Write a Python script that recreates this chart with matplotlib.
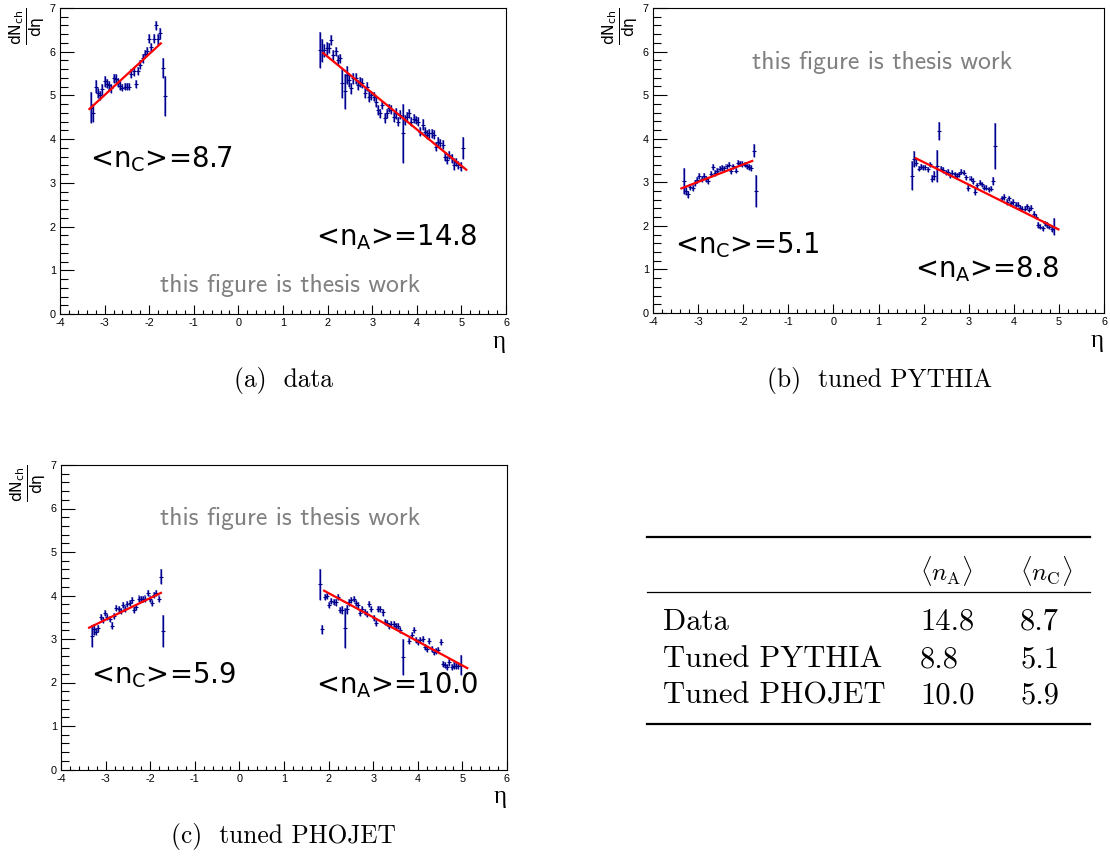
import numpy as np
import matplotlib
matplotlib.use("Agg")
import matplotlib.pyplot as plt
from matplotlib.ticker import MultipleLocator

plt.rcParams["axes.unicode_minus"] = False

W, H = 1110, 859
bin_w = 0.05

# ---- dN/deta per eta bin, C side (eta < 0) and A side (eta > 0) ----
# data
data_c_start = -3.30
data_c = [4.72, 4.60, 5.20, 5.05, 5.00, 5.14, 5.32, 5.27, 5.23, 5.16,
          5.39, 5.38, 5.29, 5.22, 5.18, 5.20, 5.20, 5.20, 5.50, 5.55,
          5.26, 5.56, 5.70, 5.85, 5.95, 6.02, 6.30, 6.10, 6.30, 6.60,
          6.28, 6.42, 5.63, 4.99]
data_c_err = [0.35, 0.20, 0.15, 0.12, 0.10, 0.12, 0.12, 0.10, 0.10, 0.10,
              0.10, 0.10, 0.10, 0.10, 0.08, 0.08, 0.08, 0.08, 0.10, 0.10,
              0.10, 0.10, 0.10, 0.10, 0.08, 0.08, 0.10, 0.10, 0.10, 0.10,
              0.12, 0.12, 0.22, 0.46]
data_a_start = 1.83
data_a = [6.04, 6.03, 6.03, 6.08, 6.09, 6.27, 5.93, 6.01, 5.81, 5.85,
          5.28, 5.09, 5.47, 5.35, 5.16, 5.39, 5.39, 5.24, 5.31, 5.28,
          5.05, 5.20, 4.97, 5.00, 4.97, 4.86, 4.67, 4.59, 4.78, 4.48,
          4.59, 4.71, 4.67, 4.51, 4.59, 4.40, 4.56, 4.13, 4.44, 4.51,
          4.59, 4.40, 4.47, 4.44, 4.40, 4.17, 4.33, 4.17, 4.10, 4.13,
          4.13, 4.10, 3.83, 3.94, 3.91, 3.87, 3.60, 3.52, 3.64, 3.56,
          3.41, 3.48, 3.41, 3.37, 3.79]
data_a_err = [0.42, 0.27, 0.15, 0.15, 0.12, 0.12, 0.12, 0.10, 0.12, 0.10,
              0.35, 0.40, 0.20, 0.15, 0.12, 0.12, 0.12, 0.12, 0.12, 0.12,
              0.12, 0.10, 0.12, 0.10, 0.10, 0.12, 0.12, 0.10, 0.10, 0.12,
              0.10, 0.10, 0.10, 0.12, 0.12, 0.10, 0.10, 0.67, 0.12, 0.10,
              0.10, 0.10, 0.10, 0.10, 0.10, 0.10, 0.12, 0.10, 0.10, 0.10,
              0.10, 0.10, 0.10, 0.10, 0.10, 0.10, 0.10, 0.10, 0.10, 0.10,
              0.12, 0.10, 0.10, 0.10, 0.25]

# tuned PYTHIA
pythia_c_start = -3.32
pythia_c = [3.03, 2.80, 2.72, 2.90, 2.87, 2.98, 3.05, 3.15, 3.08, 3.15,
            3.08, 3.03, 3.20, 3.36, 3.22, 3.27, 3.31, 3.33, 3.32, 3.37,
            3.40, 3.26, 3.37, 3.27, 3.45, 3.43, 3.42, 3.40, 3.37, 3.35,
            3.33, 3.72, 2.80]
pythia_c_err = [0.29, 0.10, 0.08, 0.07, 0.07, 0.07, 0.07, 0.07, 0.07, 0.07,
                0.07, 0.07, 0.07, 0.07, 0.07, 0.06, 0.06, 0.06, 0.06, 0.06,
                0.06, 0.06, 0.06, 0.06, 0.06, 0.06, 0.06, 0.06, 0.06, 0.06,
                0.06, 0.15, 0.37]
pythia_a_start = 1.74
pythia_a = [3.15, 3.53, 3.45, 3.31, 3.36, 3.34, 3.34, 3.30, 3.41, 3.08,
            3.15, 3.37, 4.18, 3.31, 3.28, 3.22, 3.24, 3.16, 3.22, 3.18,
            3.15, 3.18, 3.24, 3.22, 3.11, 2.88, 3.08, 3.03, 2.78, 2.93,
            2.99, 2.95, 2.88, 2.88, 2.84, 2.85, 3.03, 3.83, np.nan, np.nan,
            2.63, 2.66, 2.55, 2.63, 2.52, 2.55, 2.49, 2.49, 2.42, 2.39,
            2.39, 2.45, 2.37, 2.42, 2.27, 2.21, 2.02, 1.98, 1.94, 2.06,
            2.02, 1.98, 1.93, 1.98]
pythia_a_err = [0.33, 0.19, 0.08, 0.06, 0.06, 0.06, 0.06, 0.06, 0.06, 0.08,
                0.10, 0.36, 0.21, 0.06, 0.06, 0.06, 0.06, 0.06, 0.06, 0.06,
                0.06, 0.06, 0.06, 0.06, 0.06, 0.08, 0.06, 0.06, 0.08, 0.06,
                0.06, 0.06, 0.06, 0.06, 0.06, 0.06, 0.10, 0.53, np.nan, np.nan,
                0.06, 0.06, 0.06, 0.06, 0.06, 0.06, 0.06, 0.06, 0.06, 0.06,
                0.06, 0.06, 0.06, 0.06, 0.06, 0.06, 0.06, 0.06, 0.06, 0.06,
                0.06, 0.06, 0.06, 0.19]

# tuned PHOJET
phojet_c_start = -3.31
phojet_c = [3.07, 3.22, 3.17, 3.25, 3.51, 3.44, 3.59, 3.50, 3.45, 3.31,
            3.52, 3.71, 3.68, 3.65, 3.78, 3.68, 3.80, 3.83, 3.90, 3.66,
            3.74, 3.93, 3.91, 3.91, 3.93, 4.05, 3.93, 3.83, 4.01, 4.06,
            3.93, 4.43, 3.19]
phojet_c_err = [0.25, 0.12, 0.08, 0.08, 0.07, 0.07, 0.07, 0.07, 0.07, 0.07,
                0.07, 0.07, 0.07, 0.07, 0.07, 0.07, 0.07, 0.07, 0.07, 0.07,
                0.07, 0.07, 0.07, 0.07, 0.07, 0.07, 0.07, 0.07, 0.07, 0.07,
                0.07, 0.17, 0.37]
phojet_a_start = 1.81
phojet_a = [4.26, 3.22, 3.97, 3.99, 3.78, 3.88, 3.86, 3.84, 3.96, 3.67,
            3.67, 3.25, 3.68, 3.84, 3.90, 3.92, 3.82, 3.78, 3.59, 3.68,
            3.63, 3.58, 3.80, 3.68, 3.48, 3.36, 3.70, 3.68, 3.61, 3.40,
            3.37, 3.30, 3.34, 3.34, 3.30, 3.30, 3.21, 2.59, np.nan, np.nan,
            2.96, 3.09, 3.21, 2.97, 2.94, 2.97, 3.01, 2.82, 2.78, 2.96,
            2.76, 2.71, 2.73, 2.74, 2.94, 2.42, 2.41, 2.36, 2.46, 2.36,
            2.39, 2.37, 2.39, 2.41]
phojet_a_err = [0.36, 0.10, 0.07, 0.07, 0.07, 0.07, 0.07, 0.07, 0.07, 0.07,
                0.10, 0.46, 0.10, 0.07, 0.07, 0.07, 0.07, 0.07, 0.07, 0.07,
                0.07, 0.07, 0.07, 0.07, 0.07, 0.07, 0.07, 0.07, 0.07, 0.07,
                0.07, 0.07, 0.07, 0.07, 0.07, 0.07, 0.07, 0.42, np.nan, np.nan,
                0.07, 0.07, 0.07, 0.07, 0.07, 0.07, 0.07, 0.07, 0.07, 0.07,
                0.07, 0.07, 0.07, 0.07, 0.07, 0.07, 0.07, 0.07, 0.07, 0.07,
                0.07, 0.07, 0.07, 0.23]

# straight-line fits (end points)
data_fit_c = ([-3.34, -1.74], [4.69, 6.19])
data_fit_a = ([1.90, 5.11], [5.97, 3.30])
pythia_fit_c = ([-3.37, -1.80], [2.86, 3.49])
pythia_fit_a = ([1.83, 4.99], [3.55, 1.92])
phojet_fit_c = ([-3.37, -1.76], [3.26, 4.06])
phojet_fit_a = ([1.90, 5.11], [4.11, 2.33])

# <n> values
samples = ["Data", "Tuned PYTHIA", "Tuned PHOJET"]
n_A = [14.8, 8.8, 10.0]
n_C = [8.7, 5.1, 5.9]

fig = plt.figure(figsize=(W / 100, H / 100), dpi=100)


def px_axes(left, top, right, bottom):
    return fig.add_axes([left / W, 1 - bottom / H, (right - left) / W, (bottom - top) / H])


def style_axes(ax):
    ax.set_xlim(-4, 6)
    ax.set_ylim(0, 7)
    ax.xaxis.set_major_locator(MultipleLocator(1))
    ax.xaxis.set_minor_locator(MultipleLocator(0.2))
    ax.yaxis.set_major_locator(MultipleLocator(1))
    ax.yaxis.set_minor_locator(MultipleLocator(0.2))
    ax.tick_params(which="both", direction="in", top=False, right=False, width=0.8,
                   labelsize=7.8)
    ax.tick_params(axis="x", which="major", length=6.3, pad=3)
    ax.tick_params(axis="x", which="minor", length=3.1)
    ax.tick_params(axis="y", which="major", length=10, pad=3)
    ax.tick_params(axis="y", which="minor", length=5.8)
    for lab in ax.get_xticklabels() + ax.get_yticklabels():
        lab.set_family("Liberation Sans")
    for sp in ax.spines.values():
        sp.set_linewidth(0.8)
    ax.text(-0.026, 1.0, r"$\frac{\mathrm{dN_{ch}}}{\mathrm{d\eta}}$",
            transform=ax.transAxes, rotation=90, ha="right", va="top",
            fontsize=16, math_fontfamily="dejavusans")
    ax.text(1.0, -0.055, "η", transform=ax.transAxes, ha="right", va="top",
            fontsize=18, family="Liberation Serif")


def draw_side(ax, start, vals, errs, fit):
    vals = np.array(vals, float)
    errs = np.array(errs, float)
    eta = start + bin_w * np.arange(len(vals))
    ok = ~np.isnan(vals)
    ax.bar(eta[ok], 2 * errs[ok], bottom=vals[ok] - errs[ok], width=0.045,
           color="#8c8cd8", linewidth=0, zorder=2)
    ax.errorbar(eta[ok], vals[ok], yerr=errs[ok], fmt="_", color="#00008c",
                ms=3.5, mew=0.8, elinewidth=1.0, capsize=0, zorder=3)
    ax.plot(fit[0], fit[1], color="red", lw=1.6, zorder=4)


def n_label(side, val):
    return "<n$_{\\rm %s}$>=%.1f" % (side, val)


panels = [
    dict(box=(60, 8, 506, 314),
         c=(data_c_start, data_c, data_c_err, data_fit_c),
         a=(data_a_start, data_a, data_a_err, data_fit_a),
         nc_pos=(-3.33, 3.36), na_pos=(1.74, 1.58), wm_pos=(1.16, 0.66),
         n=0, caption="(a)  data", cap_pos=(283, 381)),
    dict(box=(653, 8, 1104, 313),
         c=(pythia_c_start, pythia_c, pythia_c_err, pythia_fit_c),
         a=(pythia_a_start, pythia_a, pythia_a_err, pythia_fit_a),
         nc_pos=(-3.51, 1.38), na_pos=(1.82, 0.83), wm_pos=(1.08, 5.76),
         n=1, caption="(b)  tuned PYTHIA", cap_pos=(880, 381)),
    dict(box=(61, 465, 507, 769.5),
         c=(phojet_c_start, phojet_c, phojet_c_err, phojet_fit_c),
         a=(phojet_a_start, phojet_a, phojet_a_err, phojet_fit_a),
         nc_pos=(-3.33, 1.99), na_pos=(1.72, 1.76), wm_pos=(1.13, 5.76),
         n=2, caption="(c)  tuned PHOJET", cap_pos=(283, 837)),
]

# overlay in pixel coordinates for captions and the table
ov = fig.add_axes([0, 0, 1, 1])
ov.set_xlim(0, W)
ov.set_ylim(H, 0)
ov.axis("off")
ov.patch.set_alpha(0)

for p in panels:
    ax = px_axes(*p["box"])
    style_axes(ax)
    draw_side(ax, *p["c"])
    draw_side(ax, *p["a"])
    i = p["n"]
    ax.text(*p["nc_pos"], n_label("C", n_C[i]), fontsize=19.8,
            math_fontfamily="dejavusans", zorder=5)
    ax.text(*p["na_pos"], n_label("A", n_A[i]), fontsize=19.8,
            math_fontfamily="dejavusans", zorder=5)
    ax.text(*p["wm_pos"], "this figure is thesis work", color="#808080",
            family="cmss10", fontsize=18.5, ha="center", va="center")
    ov.text(*p["cap_pos"], p["caption"], family="cmr10", fontsize=18.3,
            ha="center", va="center")

# table of <n_A>, <n_C>
ov.plot([647, 1090], [537, 537], color="black", lw=1.6)
ov.plot([647, 1090], [592, 592], color="black", lw=0.9)
ov.plot([647, 1090], [724, 724], color="black", lw=1.6)
ov.text(920, 580, r"$\langle n_{\mathrm{A}}\rangle$", fontsize=18,
        math_fontfamily="cm", va="baseline")
ov.text(1020, 580, r"$\langle n_{\mathrm{C}}\rangle$", fontsize=18,
        math_fontfamily="cm", va="baseline")
row_y = [630, 667, 704]
for name, na, nc, y in zip(samples, n_A, n_C, row_y):
    ov.text(663, y, name, family="cmr10", fontsize=22, va="baseline")
    ov.text(920, y, "%.1f" % na, family="cmr10", fontsize=22, va="baseline")
    ov.text(1020, y, "%.1f" % nc, family="cmr10", fontsize=22, va="baseline")

fig.savefig("out.png", dpi=100)
